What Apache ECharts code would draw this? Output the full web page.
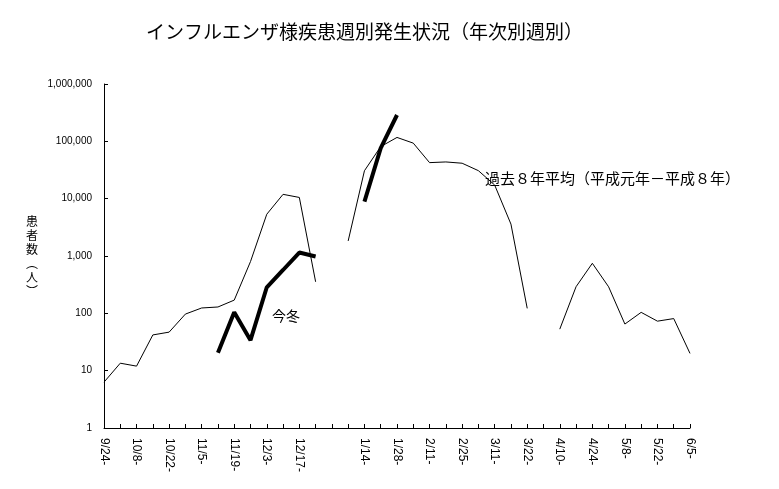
<!DOCTYPE html>
<html><head><meta charset="utf-8">
<script src="https://cdn.jsdelivr.net/npm/echarts@6/dist/echarts.min.js"></script>
<style>html,body{margin:0;padding:0;background:#fff}#c{width:779px;height:489px}</style>
</head><body><div id="c"></div>
<script>
const weekLabels = ['9/24-','','10/8-','','10/22-','','11/5-','','11/19-','','12/3-','','12/17-','','','','1/14-','','1/28-','','2/11-','','2/25-','','3/11-','','3/22-','','4/10-','','4/24-','','5/8-','','5/22-','','6/5-'];
const pastAverage = [6.3,13.5,12,42,47,97,124,129,170,800,5350,11900,10500,355,null,1830,30700,81000,117000,93000,42500,43700,41500,30800,17300,3600,122,null,53,291,746,290,65,104,73,81,20];
const thisWinter = [null,null,null,null,null,null,null,20.5,104,34,285,570,1150,980,null,null,8900,76000,288000,null,null,null,null,null,null,null,null,null,null,null,null,null,null,null,null,null,null];
const titleText = 'インフルエンザ様疾患週別発生状況（年次別週別）';
const yName = ['患','者','数','︵','人','︶'];
const labelPast = '過去８年平均（平成元年－平成８年）';
const labelNow = '今冬';

const chart = echarts.init(document.getElementById('c'), null, {renderer:'canvas'});
const jp = '"Noto Sans CJK JP", sans-serif';
chart.setOption({
  animation:false,
  backgroundColor:'#fff',
  title:{text:titleText,left:141,top:17,textStyle:{fontFamily:jp,fontSize:19,fontWeight:'normal',color:'#000'}},
  grid:{left:104,right:89,top:84,bottom:61,containLabel:false},
  xAxis:{type:'category',data:weekLabels,boundaryGap:false,
    axisLine:{lineStyle:{color:'#000',width:1}},
    axisTick:{show:true,inside:true,interval:0,length:4,lineStyle:{color:'#000'}},
    axisLabel:{interval:0,rotate:-90,margin:10,fontSize:12,fontFamily:'"Liberation Sans", Arial, sans-serif',color:'#000'},
    splitLine:{show:false}},
  yAxis:{type:'log',logBase:10,min:1,max:1000000,
    name:yName.join('\n'),nameLocation:'middle',nameRotate:0,nameGap:66,
    nameTextStyle:{fontFamily:jp,fontSize:12,lineHeight:14,color:'#000'},
    axisLine:{show:true,lineStyle:{color:'#000',width:1}},
    axisTick:{show:true,inside:true,length:4,lineStyle:{color:'#000'}},
    axisLabel:{margin:12,fontSize:10,fontFamily:'"Liberation Sans", Arial, sans-serif',color:'#000',
      formatter:v=>Math.round(v).toLocaleString('en-US')},
    splitLine:{show:false},minorTick:{show:false}},
  series:[
    {type:'line',data:pastAverage,showSymbol:false,symbol:'none',connectNulls:false,
      lineStyle:{color:'#000',width:1},z:2},
    {type:'line',data:thisWinter,showSymbol:false,symbol:'none',connectNulls:false,
      lineStyle:{color:'#000',width:4},z:3}
  ],
  graphic:[
    {type:'text',left:485,top:171,style:{text:labelPast,font:'15px '+jp,fill:'#000'}},
    {type:'text',left:272,top:309,style:{text:labelNow,font:'14px '+jp,fill:'#000'}}
  ]
});
</script></body></html>
